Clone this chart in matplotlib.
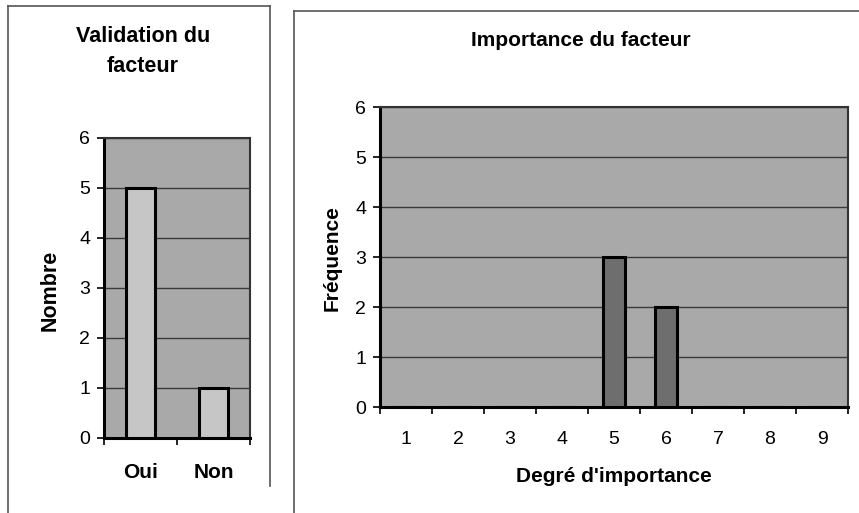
import numpy as np
import matplotlib.pyplot as plt
from matplotlib.lines import Line2D

plt.rcParams['font.family'] = ['Liberation Sans', 'DejaVu Sans']

# DONNÉES
reponses = ['Oui', 'Non']
nombre = [5, 1]
degres = ['1', '2', '3', '4', '5', '6', '7', '8', '9']
frequence = [0, 0, 0, 0, 3, 2, 0, 0, 0]

W, H = 859, 513
fig = plt.figure(figsize=(W / 100, H / 100), dpi=100)

def px(x0, y0, w, h):
    # rectangle en pixels (coin haut-gauche) -> coordonnées figure
    return [x0 / W, 1 - (y0 + h) / H, w / W, h / H]

fond = '#a9a9a9'
grille = '#3a3a3a'

def styliser(ax, n, pad_x):
    ax.set_facecolor(fond)
    ax.set_xlim(-0.5, n - 0.5)
    ax.set_ylim(0, 6)
    ax.set_yticks(range(7))
    ax.yaxis.grid(True, color=grille, linewidth=1.0)
    ax.set_axisbelow(True)
    ax.set_xticks(np.arange(n + 1) - 0.5)
    ax.set_xticklabels([])
    ax.tick_params(axis='x', which='major', length=5, width=1.2, color='black', direction='out')
    ax.tick_params(axis='y', which='major', length=5, width=1.2, color='black',
                   labelsize=14, pad=5)
    ax.set_xticks(np.arange(n), minor=True)
    ax.tick_params(axis='x', which='minor', length=0, pad=pad_x)
    for c in ['left', 'bottom']:
        ax.spines[c].set_linewidth(2.2)
        ax.spines[c].set_color('black')
    for c in ['top', 'right']:
        ax.spines[c].set_linewidth(1.5)
        ax.spines[c].set_color('#333333')

# Validation du facteur
ax1 = fig.add_axes(px(104, 138, 146, 300))
styliser(ax1, len(reponses), 18)
ax1.bar(range(len(reponses)), nombre, width=0.41, color='#c6c6c6',
        edgecolor='black', linewidth=2.2, zorder=3)
ax1.set_xticklabels(reponses, minor=True, fontsize=15, fontweight='bold')

# Importance du facteur
ax2 = fig.add_axes(px(380, 107, 468, 300))
styliser(ax2, len(degres), 17)
ax2.bar(range(len(degres)), frequence, width=0.44, color='#6e6e6e',
        edgecolor='black', linewidth=2.2, zorder=3)
ax2.set_xticklabels(degres, minor=True, fontsize=14)

# Titres et étiquettes
gauche = dict(fontsize=15.5, fontweight='bold', ha='center', va='center')
droite = dict(fontsize=15, fontweight='bold', ha='center', va='center')
fig.text(143 / W, 1 - 37 / H, 'Validation du', **gauche)
fig.text(143 / W, 1 - 66 / H, 'facteur', **gauche)
fig.text(50 / W, 1 - 290 / H, 'Nombre', rotation=90, **gauche)
fig.text(581 / W, 1 - 40 / H, 'Importance du facteur', **droite)
fig.text(332 / W, 1 - 258 / H, 'Fréquence', rotation=90, **droite)
fig.text(614 / W, 1 - 477 / H, "Degré d'importance", **droite)

# Cadres des graphiques
def ligne(x, y, lw=1.2):
    fig.add_artist(Line2D([v / W for v in x], [1 - v / H for v in y],
                          color='#555555', linewidth=lw))

ligne([8, 8], [6, 513])
ligne([8, 270], [6, 6])
ligne([270, 270], [6, 486])
ligne([294, 294], [11, 513])
ligne([294, 859], [11, 11])

fig.savefig('out.png', dpi=100, facecolor='white')
